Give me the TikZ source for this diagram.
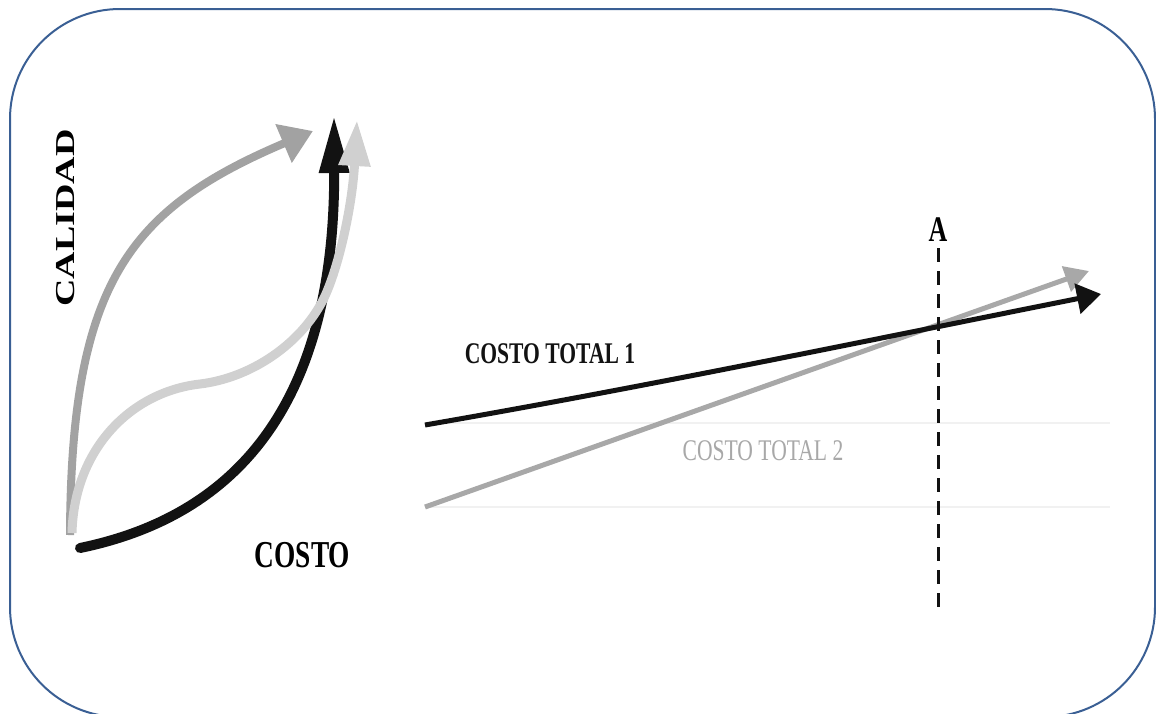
\documentclass[tikz,border=0pt]{standalone}
\usepackage{fontspec}
\setmainfont{Liberation Serif}
\usetikzlibrary{arrows.meta}
\definecolor{frameblue}{HTML}{3A5F94}
\definecolor{midgray}{HTML}{A2A2A2}
\definecolor{palegray}{HTML}{D0D0D0}
\definecolor{inkblack}{HTML}{121212}
\definecolor{linegray}{HTML}{A8A8A8}
\definecolor{guidegray}{HTML}{F1F1F1}
\tikzset{
  framebox/.style={draw=frameblue, line width=2pt, rounded corners=110pt},
  curvegray/.style={midgray, line width=8pt, -{Triangle[length=32pt,width=40pt]}},
  curvepale/.style={palegray, line width=9pt, -{Triangle[length=46pt,width=30pt]}},
  curveblack/.style={inkblack, line width=10pt, line cap=round, -{Triangle[length=58pt,width=28pt]}},
  costline/.style={line width=5pt},
  guide/.style={guidegray, line width=2pt},
  lbl/.style={inner sep=0pt, anchor=base, xscale=0.72},
  bigfont/.style={font=\bfseries\fontsize{38}{40}\selectfont},
  midfont/.style={font=\bfseries\fontsize{30}{32}\selectfont},
}
\begin{document}
\begin{tikzpicture}[x=1pt,y=-1pt]
\useasboundingbox (0,0) rectangle (1156,713);
\clip (0,0) rectangle (1156,713);

% outer frame
\draw[framebox] (10,9) rectangle (1155,717);

% ---- quality versus cost curves ----
\coordinate (g0) at (70,535);
\coordinate (g1) at (313,131);
\coordinate (p0) at (72,533);
\coordinate (p1) at (357,120);
\coordinate (b0) at (80,548);
\coordinate (b1) at (334,115);

\draw[curvegray] (g0) .. controls (71,283) and (129,209) .. (g1);
\draw[curveblack] (b0) .. controls (240,515) and (335,400) .. (b1);
\draw[curvepale] (p0) .. controls (74,450) and (130,392) .. (200,384)
  .. controls (250,378) and (300,345) .. (323,300)
  .. controls (337,273) and (352,210) .. (p1);

\node[rotate=90, inner sep=0pt, bigfont] (calidad) at (66,218)
  {\scalebox{1}[0.72]{CALIDAD}};
\node[lbl, bigfont] (costo) at (302.5,567) {COSTO};

% ---- total cost lines ----
\draw[guide] (425,423) -- (1110,423);
\draw[guide] (425,507) -- (1110,507);

\coordinate (c2s) at (425,507);
\coordinate (c2e) at (1089,271);
\coordinate (c1s) at (425,425);
\coordinate (c1e) at (1101,294);

\draw[costline, linegray, -{Triangle[length=24pt,width=26pt]}] (c2s) -- (c2e);
\draw[costline, inkblack, -{Triangle[length=24pt,width=30pt]}]
  (c1s) .. controls (650,386) and (870,340) .. (c1e);

\coordinate (abot) at (938,610);
\node[lbl, font=\bfseries\fontsize{36}{38}\selectfont] (a) at (938,241) {A};
\draw[inkblack, line width=3pt, dash pattern=on 14pt off 9pt]
  ([yshift=-7pt]a.south) -- (abot);

\node[lbl, midfont, inkblack] (ct1) at (550,363) {COSTO TOTAL 1};
\node[lbl, font=\fontsize{30}{32}\selectfont, text=linegray] (ct2) at (763,460)
  {COSTO TOTAL 2};
\end{tikzpicture}
\end{document}
